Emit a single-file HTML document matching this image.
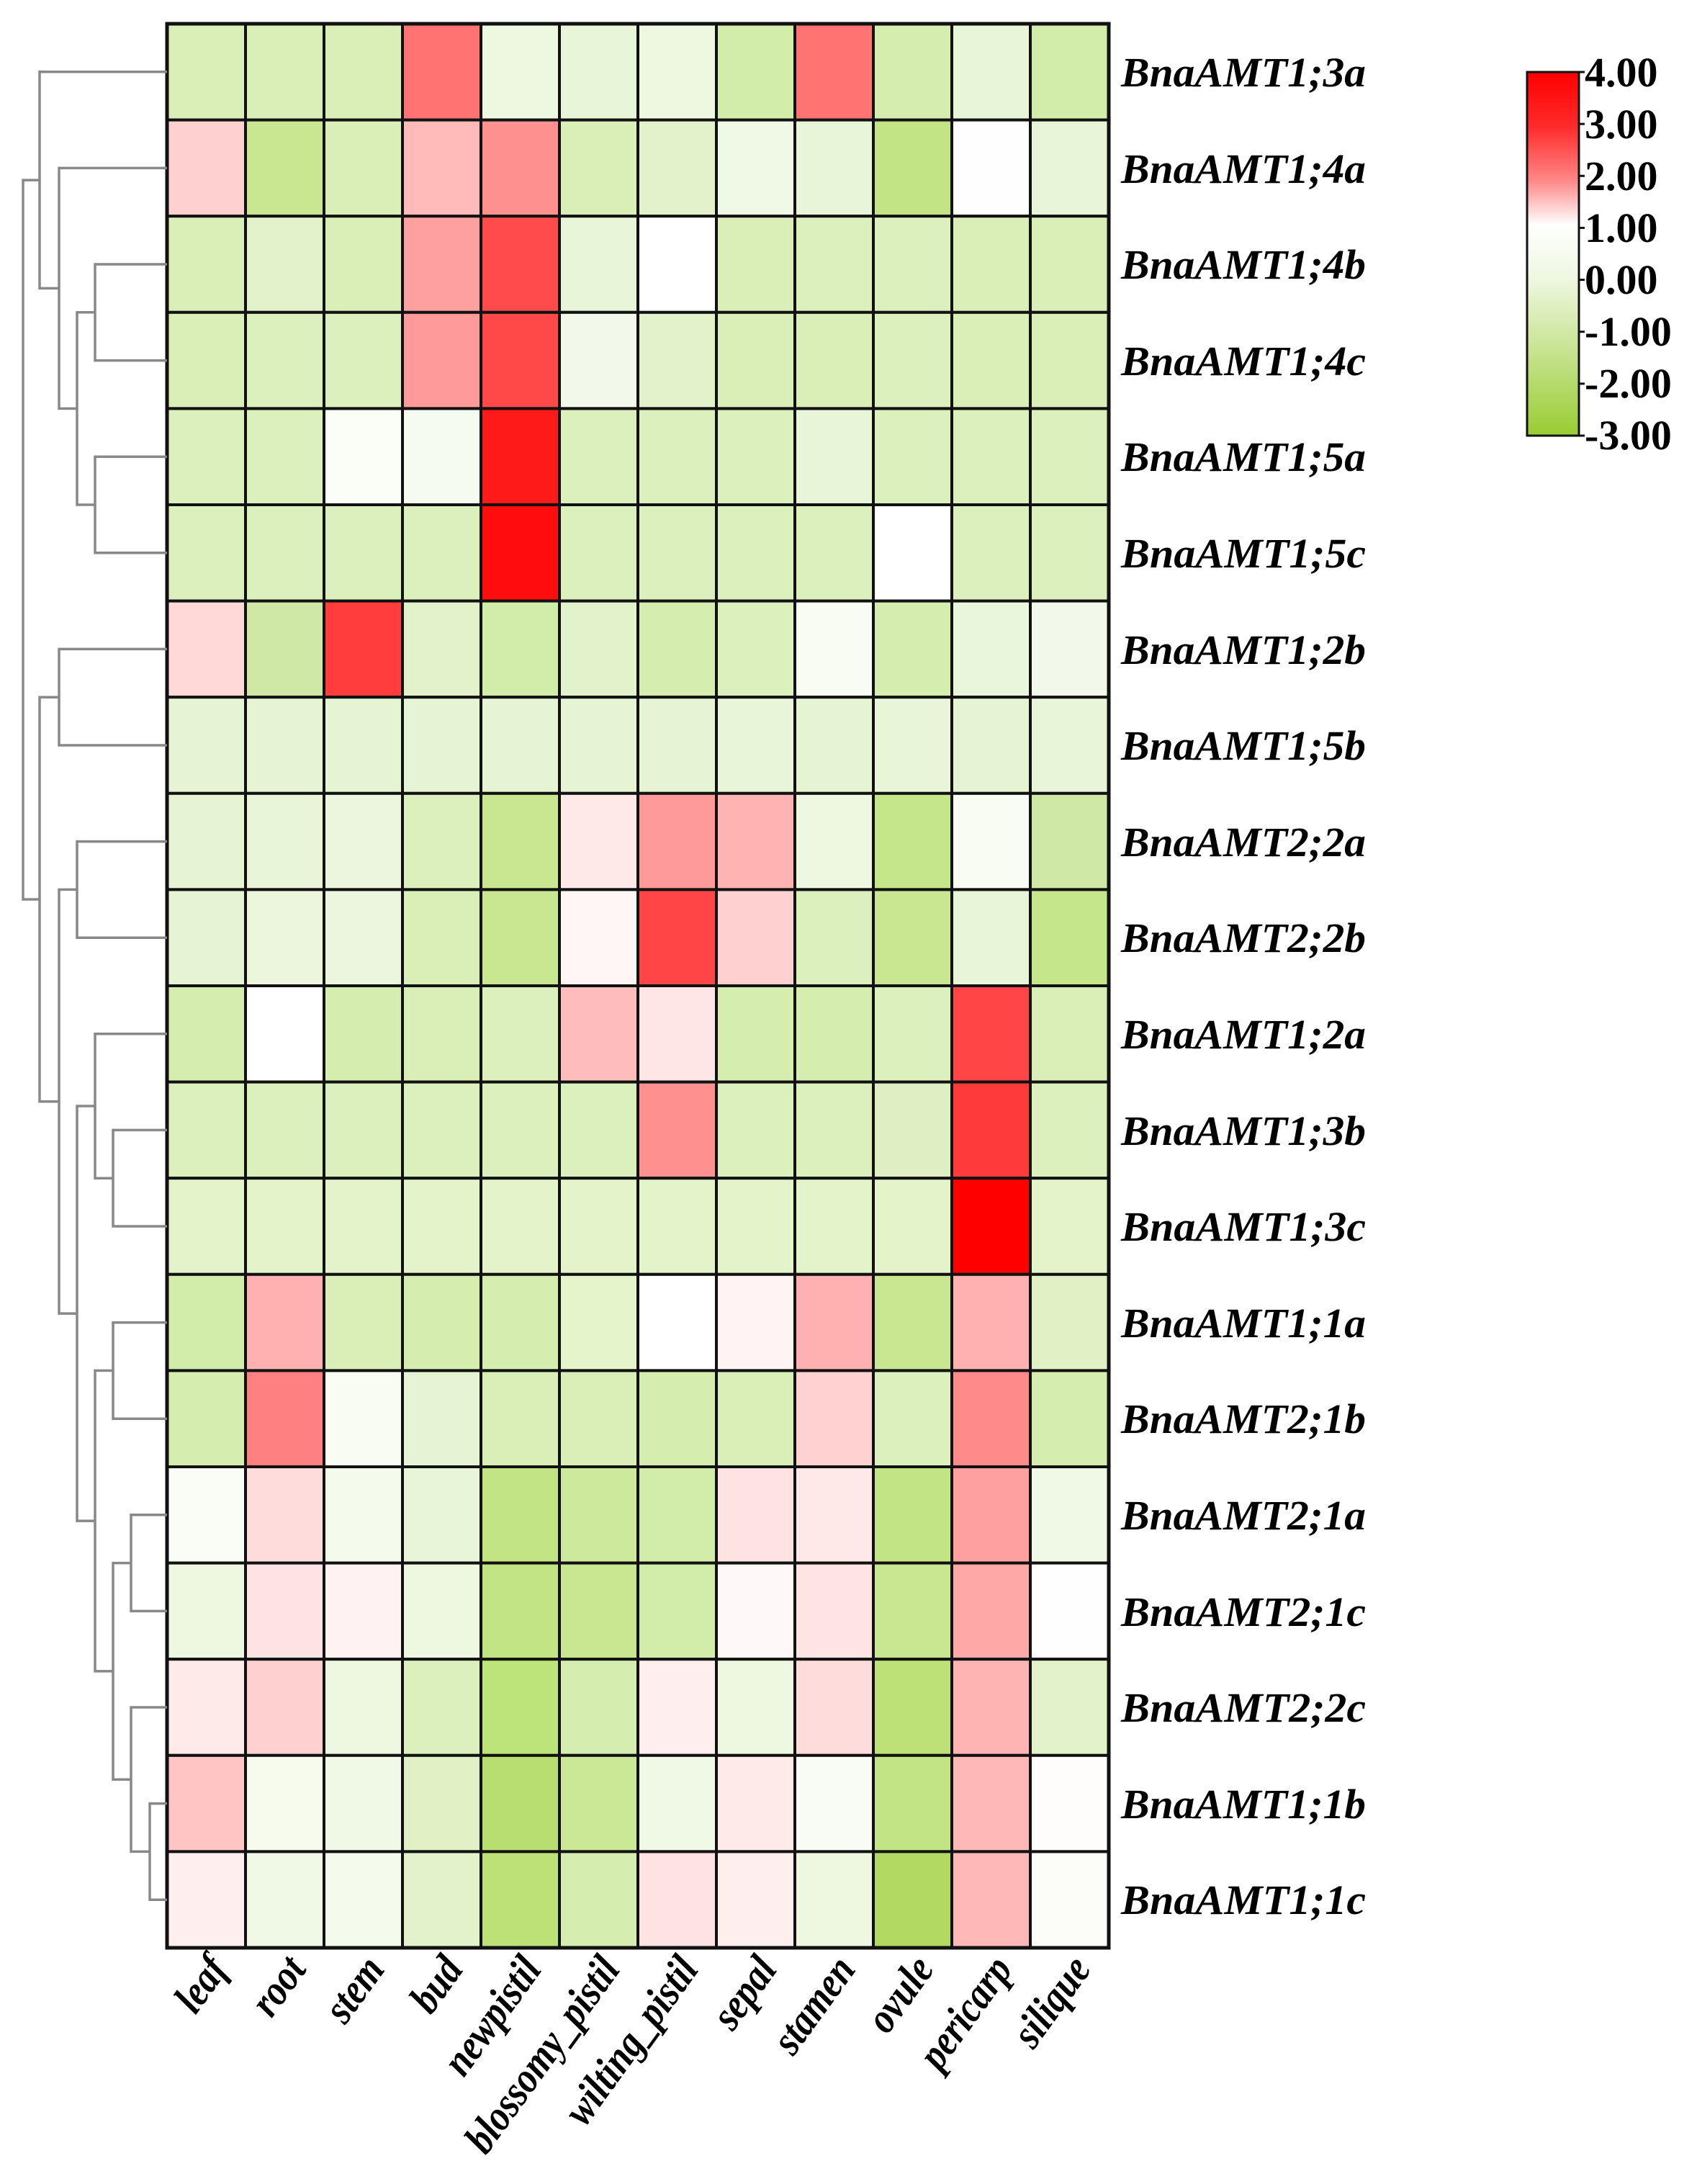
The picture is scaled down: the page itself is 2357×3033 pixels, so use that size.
<!DOCTYPE html>
<html><head><meta charset="utf-8"><style>
html,body{margin:0;padding:0;background:#fff;}
svg{display:block;}
text{font-family:"Liberation Serif",serif;font-weight:bold;}
</style></head><body>
<svg id="s" width="2357" height="3033" viewBox="0 0 2357 3033" xmlns="http://www.w3.org/2000/svg">
<defs>
<linearGradient id="lg" x1="0" y1="0" x2="0" y2="1">
<stop offset="0" stop-color="#ff0000"/>
<stop offset="0.15" stop-color="#ff2a2a"/>
<stop offset="0.3" stop-color="#ff8888"/>
<stop offset="0.42" stop-color="#ffffff"/>
<stop offset="0.57" stop-color="#eef7e0"/>
<stop offset="1" stop-color="#99cc33"/>
</linearGradient>
</defs>
<g id="cells"></g>
<g id="dend" stroke="#888" stroke-width="3.5" fill="none"></g>
<rect x="2121" y="100" width="72" height="505" fill="url(#lg)" stroke="#111" stroke-width="3"/>
<g id="ticks" stroke="#111" stroke-width="3"></g>
<g font-size="58" fill="#000">
<text x="2201" y="120">4.00</text>
<text x="2201" y="192">3.00</text>
<text x="2201" y="264">2.00</text>
<text x="2201" y="336">1.00</text>
<text x="2201" y="408">0.00</text>
<text x="2201" y="480">-1.00</text>
<text x="2201" y="552">-2.00</text>
<text x="2201" y="624">-3.00</text>
</g>
<g font-size="58" font-style="italic" fill="#000">
<text x="1557" y="120" textLength="340" lengthAdjust="spacingAndGlyphs">BnaAMT1;3a</text>
<text x="1557" y="254" textLength="340" lengthAdjust="spacingAndGlyphs">BnaAMT1;4a</text>
<text x="1557" y="387" textLength="340" lengthAdjust="spacingAndGlyphs">BnaAMT1;4b</text>
<text x="1557" y="521" textLength="340" lengthAdjust="spacingAndGlyphs">BnaAMT1;4c</text>
<text x="1557" y="654" textLength="340" lengthAdjust="spacingAndGlyphs">BnaAMT1;5a</text>
<text x="1557" y="788" textLength="340" lengthAdjust="spacingAndGlyphs">BnaAMT1;5c</text>
<text x="1557" y="922" textLength="340" lengthAdjust="spacingAndGlyphs">BnaAMT1;2b</text>
<text x="1557" y="1055" textLength="340" lengthAdjust="spacingAndGlyphs">BnaAMT1;5b</text>
<text x="1557" y="1189" textLength="340" lengthAdjust="spacingAndGlyphs">BnaAMT2;2a</text>
<text x="1557" y="1322" textLength="340" lengthAdjust="spacingAndGlyphs">BnaAMT2;2b</text>
<text x="1557" y="1456" textLength="340" lengthAdjust="spacingAndGlyphs">BnaAMT1;2a</text>
<text x="1557" y="1590" textLength="340" lengthAdjust="spacingAndGlyphs">BnaAMT1;3b</text>
<text x="1557" y="1723" textLength="340" lengthAdjust="spacingAndGlyphs">BnaAMT1;3c</text>
<text x="1557" y="1857" textLength="340" lengthAdjust="spacingAndGlyphs">BnaAMT1;1a</text>
<text x="1557" y="1990" textLength="340" lengthAdjust="spacingAndGlyphs">BnaAMT2;1b</text>
<text x="1557" y="2124" textLength="340" lengthAdjust="spacingAndGlyphs">BnaAMT2;1a</text>
<text x="1557" y="2258" textLength="340" lengthAdjust="spacingAndGlyphs">BnaAMT2;1c</text>
<text x="1557" y="2391" textLength="340" lengthAdjust="spacingAndGlyphs">BnaAMT2;2c</text>
<text x="1557" y="2525" textLength="340" lengthAdjust="spacingAndGlyphs">BnaAMT1;1b</text>
<text x="1557" y="2658" textLength="340" lengthAdjust="spacingAndGlyphs">BnaAMT1;1c</text>
</g>
<g font-size="60" font-style="italic" fill="#000" text-anchor="end">
<text transform="translate(318,2735) rotate(-54) scale(0.85,1)">leaf</text>
<text transform="translate(427,2735) rotate(-54) scale(0.85,1)">root</text>
<text transform="translate(536,2735) rotate(-54) scale(0.85,1)">stem</text>
<text transform="translate(645,2735) rotate(-54) scale(0.85,1)">bud</text>
<text transform="translate(754,2735) rotate(-54) scale(0.85,1)">newpistil</text>
<text transform="translate(863,2735) rotate(-54) scale(0.85,1)">blossomy_pistil</text>
<text transform="translate(972,2735) rotate(-54) scale(0.85,1)">wilting_pistil</text>
<text transform="translate(1081,2735) rotate(-54) scale(0.85,1)">sepal</text>
<text transform="translate(1190,2735) rotate(-54) scale(0.85,1)">stamen</text>
<text transform="translate(1299,2735) rotate(-54) scale(0.85,1)">ovule</text>
<text transform="translate(1408,2735) rotate(-54) scale(0.85,1)">pericarp</text>
<text transform="translate(1517,2735) rotate(-54) scale(0.85,1)">silique</text>
</g>
</svg>
<script>
var C=[
"d9efb7 d9efb7 d9efb7 ff7373 eef7e0 e8f5d8 eef7e0 d2ecaa ff7373 d5edaf e8f5d8 d2ecaa",
"ffd0d0 c9e790 d9efb7 ffbaba ff9090 d9efb7 e2f3cc f0f8e6 e8f5d8 c3e484 fefefe e8f5d8",
"d9efb7 e2f3cc d9efb7 ffa0a0 ff4b4b e8f5d8 ffffff d9efb7 dcf0bd dcf0bd d9efb7 d9efb7",
"d9efb7 dcf0bd dcf0bd ff9a9a ff4848 f2f9ea e2f3cc d9efb7 d9efb7 dcf0bd d9efb7 d9efb7",
"dcf0bd dcf0bd fbfdf7 f6fbef ff1a1a dcf0bd dcf0bd dcf0bd e8f5d8 dcf0bd dcf0bd dcf0bd",
"dcf0bd dcf0bd dcf0bd dcf0bd ff0d0d dcf0bd dcf0bd dcf0bd dcf0bd ffffff dcf0bd dcf0bd",
"ffd8d8 cfe8a5 ff3d3d e2f3cc d2ecaa e2f3cc d5edaf dcf0bd f8fcf2 d5edaf eaf6dc f2f9ea",
"e5f4d2 e5f4d2 e5f4d2 e5f4d2 e5f4d2 e5f4d2 e5f4d2 e8f5d8 e5f4d2 e8f5d8 e5f4d2 e8f5d8",
"e5f4d2 e8f5d8 ecf6df dcf0bd c9e790 ffe8e8 ff9a9a ffb3b3 eef7e0 c6e68a f8fcf2 cfe8a5",
"e5f4d2 ebf6dd ecf6df d9efb7 c9e790 fff6f6 ff4545 ffd0d0 dcf0bd c9e790 e8f5d8 c6e68a",
"d5edaf ffffff d5edaf d9efb7 dcf0bd ffbcbc ffe6e6 d5edaf d5edaf dcf0bd ff4545 d9efb7",
"dcf0bd dcf0bd dcf0bd dcf0bd dcf0bd dcf0bd ff9090 dcf0bd dcf0bd dfefc4 ff3a3a dcf0bd",
"e3f3ca e3f3ca e3f3ca e3f3ca e3f3ca e3f3ca e3f3ca e3f3ca e3f3ca e3f3ca ff0000 e3f3ca",
"d2ecaa ffb0b0 d9efb7 d5edaf d5edaf e5f4ca ffffff fff3f3 ffb0b0 c9e790 ffb0b0 dff1c5",
"d5edaf ff8080 f8fcf2 e5f4d2 d9efb7 d9efb7 d5edaf d9efb7 ffd2d2 dcf0bd ff8a8a d5edaf",
"fafdf5 ffdcdc f4faec e8f5d8 c3e484 cde99c d2ecaa ffe2e2 ffe8e8 c3e484 ffa0a0 f0f8e6",
"eef7e0 ffe2e2 fff2f2 eef7e0 c3e484 c9e790 d2ecaa fff8f8 ffe4e4 c9e790 ffa8a8 fffefe",
"ffeaea ffd0d0 eef7e0 dcf0bd bde47a d5edaf ffeeee eef7e0 ffdcdc bde077 ffb4b4 e2f3cc",
"ffc4c4 f6fbee f0f8e6 e0f1c6 b8dd70 cbe896 f0f8e6 ffeaea f8fcf4 c3e484 ffb8b8 fffcfc",
"ffeeee f0f8e6 f4faec e2f3cc bde077 d5edaf ffe2e2 ffeeee eef7e0 b2da62 ffb8b8 fcfdf9"];
var NS="http://www.w3.org/2000/svg";
var g=document.getElementById('cells');
var L=232,T=33,W=109,H=133.6;
function el(p,t,a){var e=document.createElementNS(NS,t);for(var k in a)e.setAttribute(k,a[k]);p.appendChild(e);return e;}
for(var r=0;r<20;r++){var row=C[r].split(' ');for(var c=0;c<12;c++){
el(g,'rect',{x:L+c*W,y:T+r*H,width:W,height:H,fill:'#'+row[c],stroke:'#111','stroke-width':4});}}
el(g,'rect',{x:L,y:T,width:12*W,height:20*H,fill:'none',stroke:'#111','stroke-width':5});
var d=document.getElementById('dend');
function yc(i){return T+H*(i+0.5);}
function U(x,y1,y2,x1,x2){el(d,'path',{d:'M'+x1+' '+y1+'H'+x+'V'+y2+'H'+x2});}
var n23=(yc(2)+yc(3))/2, n45=(yc(4)+yc(5))/2;
U(132,yc(2),yc(3),L,L);U(132,yc(4),yc(5),L,L);
var nA2=(n23+n45)/2; U(107,n23,n45,132,132);
var nA1=(yc(1)+nA2)/2; U(82,yc(1),nA2,L,107);
var A=(yc(0)+nA1)/2; U(55,yc(0),nA1,L,82);
var n67=(yc(6)+yc(7))/2; U(82,yc(6),yc(7),L,L);
var n89=(yc(8)+yc(9))/2; U(107,yc(8),yc(9),L,L);
var n1112=(yc(11)+yc(12))/2; U(157,yc(11),yc(12),L,L);
var n10=(yc(10)+n1112)/2; U(132,yc(10),n1112,L,157);
var n1314=(yc(13)+yc(14))/2; U(157,yc(13),yc(14),L,L);
var n1516=(yc(15)+yc(16))/2; U(182,yc(15),yc(16),L,L);
var n1819=(yc(18)+yc(19))/2; U(208,yc(18),yc(19),L,L);
var n17=(yc(17)+n1819)/2; U(182,yc(17),n1819,L,208);
var n15=(n1516+n17)/2; U(157,n1516,n17,182,182);
var n13=(n1314+n15)/2; U(132,n1314,n15,157,157);
var n10b=(n10+n13)/2; U(107,n10,n13,132,132);
var n8=(n89+n10b)/2; U(82,n89,n10b,107,107);
var B=(n67+n8)/2; U(55,n67,n8,82,82);
U(32,A,B,55,55);
var tk=document.getElementById('ticks');
for(var i=0;i<8;i++){var y=100+i*505/7;el(tk,'line',{x1:2193,y1:y,x2:2201,y2:y});}
</script>
</body></html>
